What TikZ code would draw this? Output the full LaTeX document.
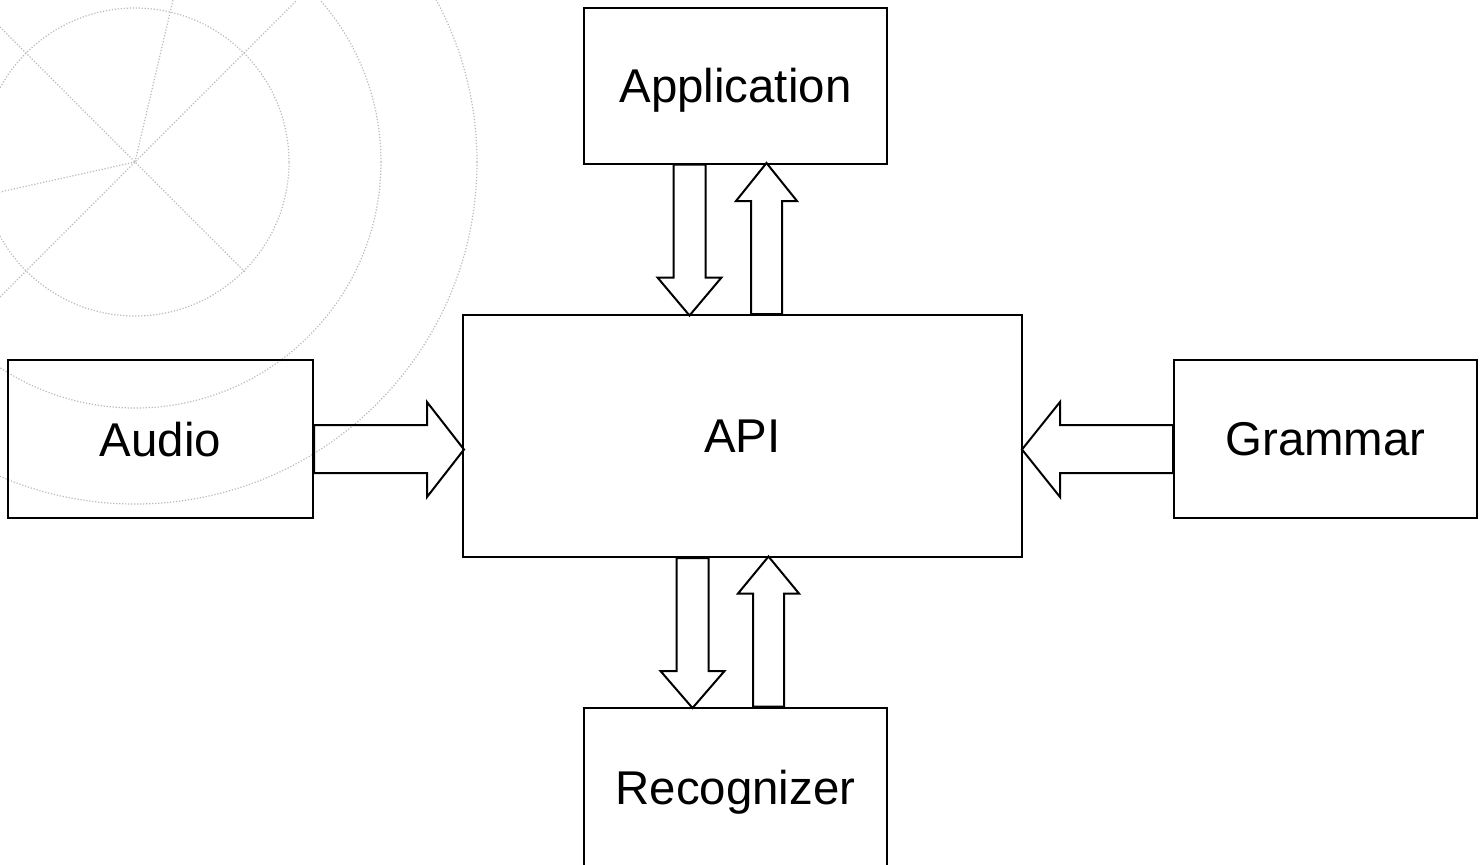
\documentclass[tikz,border=0pt]{standalone}
\usepackage{fontspec}
\setmainfont{Liberation Sans}
\usetikzlibrary{calc}

\tikzset{
  blok/.style={draw, line width=1pt, minimum width=151.5pt, minimum height=78pt,
               inner sep=0pt, text depth=0pt, font=\fontsize{23.7}{28}\selectfont},
  fatarrow/.style={draw, line width=1pt, line join=miter},
  watermark/.style={draw=gray!55, line width=0.6pt, dash pattern=on 0.6pt off 0.9pt}
}

\begin{document}
\begin{tikzpicture}[x=0.5pt, y=-0.5pt]
\useasboundingbox (0,0) rectangle (1480,864);

% фон
                \draw [watermark] (135,162) circle [radius=77pt];
                \draw [watermark] (135,162) circle [radius=123pt];
                \draw [watermark] (135,162) circle [radius=171pt];
                \draw [watermark] (0,297) -- (297,0);
                \draw [watermark] (0,27) -- (245,272);
                \draw [watermark] (135,162) -- (173,0);
                \draw [watermark] (135,162) -- (0,192);

% блоки
                \node [blok] (app) at (735.5,85.5) {Application};
                \node [blok, minimum width=279.5pt, minimum height=121pt] (api) at (742.5,436) {API};
                \node [blok, minimum width=152.5pt, minimum height=79pt] (aud) at (160.5,439) {Audio};
                \node [blok, minimum height=79pt] (gram) at (1325.5,439) {Grammar};
                \node [blok, minimum height=79.5pt] (rec) at (735.5,787) {Recognizer};

% стрелки сверху
                \draw [fatarrow] (app.south) ++(-62,0) -- ++(0,113) -- ++(-16,0) -- ++(32,38)
                      -- ++(32,-38) -- ++(-16,0) -- ++(0,-113) -- cycle;
                \draw [fatarrow] (api.north) ++(8.5,0) -- ++(0,-113) -- ++(-15,0) -- ++(30.5,-38)
                      -- ++(30.5,38) -- ++(-15,0) -- ++(0,113) -- cycle;

% стрелки снизу
                \draw [fatarrow] (api.south) ++(-66,0) -- ++(0,113) -- ++(-16,0) -- ++(32,37)
                      -- ++(32,-37) -- ++(-16,0) -- ++(0,-113) -- cycle;
                \draw [fatarrow] (rec.north) ++(17.5,0) -- ++(0,-113) -- ++(-15,0) -- ++(30.5,-37)
                      -- ++(30.5,37) -- ++(-15,0) -- ++(0,113) -- cycle;

% стрелки сбоку
                \draw [fatarrow] (aud.east) ++(0,-14) -- ++(113,0) -- ++(0,-23) -- ++(37,47.5)
                      -- ++(-37,47.5) -- ++(0,-24) -- ++(-113,0) -- cycle;
                \draw [fatarrow] (gram.west) ++(0,-14) -- ++(-113,0) -- ++(0,-23) -- ++(-38,47.5)
                      -- ++(38,47.5) -- ++(0,-24) -- ++(113,0) -- cycle;
            \end{tikzpicture}
\end{document}
